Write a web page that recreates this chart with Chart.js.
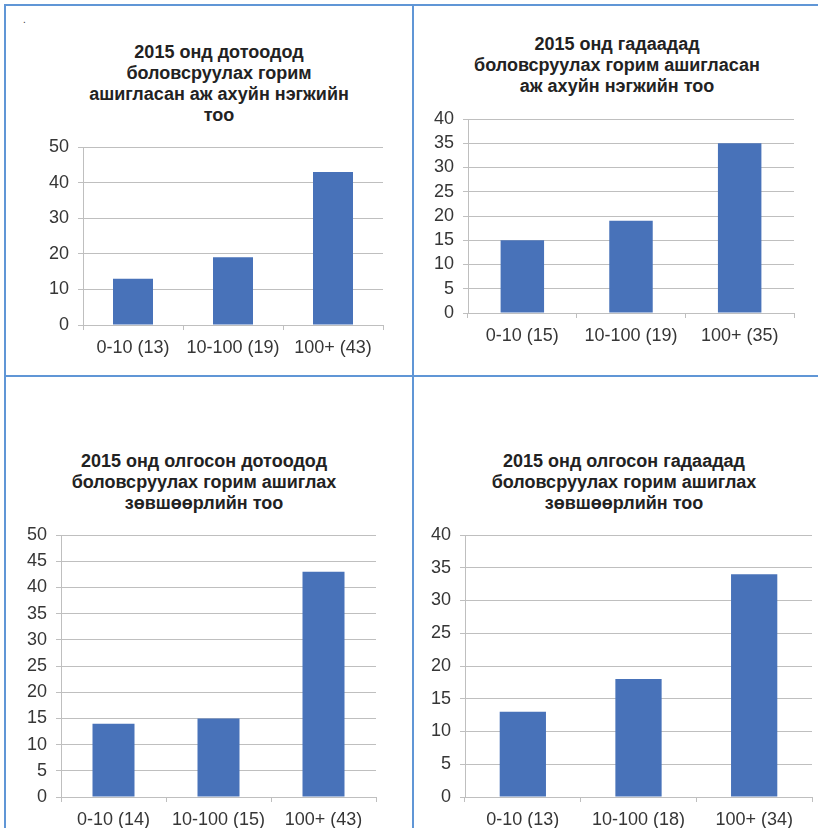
<!DOCTYPE html>
<html>
<head>
<meta charset="utf-8">
<script src="https://cdn.jsdelivr.net/npm/chart.js@4.4.1/dist/chart.umd.min.js"></script>
<style>
  html, body { margin: 0; padding: 0; background: #ffffff; }
  body { width: 818px; height: 828px; position: relative; overflow: hidden; }
  .line { position: absolute; background: #6096d6; }
  .box { position: absolute; }
  .dot { position: absolute; left: 23px; top: 14px; font: 10px "Liberation Sans", Arial, sans-serif; color: #333; }
  .title { position: absolute; width: 400px; text-align: center; white-space: nowrap;
           font: bold 18px/21px "Liberation Sans", Arial, Helvetica, sans-serif; color: #222222; }
</style>
</head>
<body>
<div class="line" style="left:4px; top:4px; width:814px; height:2px;"></div>
<div class="line" style="left:4px; top:4px; width:2px; height:824px;"></div>
<div class="line" style="left:412px; top:4px; width:2px; height:824px;"></div>
<div class="line" style="left:4px; top:375px; width:814px; height:2px;"></div>
<div class="dot">.</div>

<div class="title" id="t1" style="left:19px; top:41.5px;"></div>
<div class="title" id="t2" style="left:417px; top:33.5px;"></div>
<div class="title" id="t3" style="left:4px; top:450.5px;"></div>
<div class="title" id="t4" style="left:424px; top:450.5px;"></div>

<div class="box" style="left:7px; top:7px; width:404px; height:368px;"><canvas id="c1"></canvas></div>
<div class="box" style="left:414px; top:7px; width:404px; height:368px;"><canvas id="c2"></canvas></div>
<div class="box" style="left:7px; top:378px; width:404px; height:450px;"><canvas id="c3"></canvas></div>
<div class="box" style="left:414px; top:378px; width:404px; height:450px;"><canvas id="c4"></canvas></div>

<script>
// ---- DATA ----
const title1 = ['2015 онд дотоодод', 'боловсруулах горим', 'ашигласан аж ахуйн нэгжийн', 'тоо'];
const categories1 = ['0-10 (13)', '10-100 (19)', '100+ (43)'];
const values1 = [13, 19, 43];
const yMax1 = 50, yStep1 = 10;

const title2 = ['2015 онд гадаадад', 'боловсруулах горим ашигласан', 'аж ахуйн нэгжийн тоо'];
const categories2 = ['0-10 (15)', '10-100 (19)', '100+ (35)'];
const values2 = [15, 19, 35];
const yMax2 = 40, yStep2 = 5;

const title3 = ['2015 онд олгосон дотоодод', 'боловсруулах горим ашиглах', 'зөвшөөрлийн тоо'];
const categories3 = ['0-10 (14)', '10-100 (15)', '100+ (43)'];
const values3 = [14, 15, 43];
const yMax3 = 50, yStep3 = 5;

const title4 = ['2015 онд олгосон гадаадад', 'боловсруулах горим ашиглах', 'зөвшөөрлийн тоо'];
const categories4 = ['0-10 (13)', '10-100 (18)', '100+ (34)'];
const values4 = [13, 18, 34];
const yMax4 = 40, yStep4 = 5;

// ---- LAYOUT / STYLE ----
const FONT = '"Liberation Sans", Arial, Helvetica, sans-serif';
const BAR = '#4872b9';
const GRID = '#bfbfbf';
const TICK = '#363636';

// W: y-axis width, T: top padding, R: right padding, H: x-axis height
const layouts = [
  { id: 'c1', t: 't1', W: 76, T: 140, R: 28, H: 50 },
  { id: 'c2', t: 't2', W: 54, T: 112, R: 24, H: 62 },
  { id: 'c3', t: 't3', W: 54, T: 157, R: 35, H: 31 },
  { id: 'c4', t: 't4', W: 51, T: 157, R: 6,  H: 31 }
];

const charts = [
  { title: title1, cats: categories1, vals: values1, max: yMax1, step: yStep1 },
  { title: title2, cats: categories2, vals: values2, max: yMax2, step: yStep2 },
  { title: title3, cats: categories3, vals: values3, max: yMax3, step: yStep3 },
  { title: title4, cats: categories4, vals: values4, max: yMax4, step: yStep4 }
];

charts.forEach((c, i) => {
  const lay = layouts[i];
  const tEl = document.getElementById(lay.t);
  c.title.forEach(line => {
    const d = document.createElement('div');
    d.textContent = line;
    tEl.appendChild(d);
  });
  new Chart(document.getElementById(lay.id), {
    type: 'bar',
    data: {
      labels: c.cats,
      datasets: [{
        data: c.vals,
        backgroundColor: BAR,
        borderWidth: 0,
        barPercentage: 0.4,
        categoryPercentage: 1.0
      }]
    },
    options: {
      responsive: true,
      maintainAspectRatio: false,
      animation: false,
      events: [],
      layout: { padding: { left: 0, right: lay.R, top: lay.T, bottom: 0 } },
      plugins: {
        legend: { display: false },
        tooltip: { enabled: false },
        title: { display: false }
      },
      scales: {
        x: {
          grid: { display: true, drawOnChartArea: false, drawTicks: true, tickLength: 5, color: GRID, lineWidth: 1, offset: true },
          border: { display: true, color: GRID, width: 1 },
          ticks: { color: TICK, font: { family: FONT, size: 18 }, padding: 7, maxRotation: 0, autoSkip: false },
          afterFit: (s) => { s.height = lay.H; }
        },
        y: {
          min: 0,
          max: c.max,
          grid: { color: GRID, lineWidth: 1, drawTicks: true, tickLength: 5 },
          border: { display: true, color: GRID, width: 1 },
          ticks: { stepSize: c.step, color: TICK, font: { family: FONT, size: 18 }, padding: 9, autoSkip: false },
          afterFit: (s) => { s.width = lay.W; }
        }
      }
    }
  });
});
</script>
</body>
</html>
